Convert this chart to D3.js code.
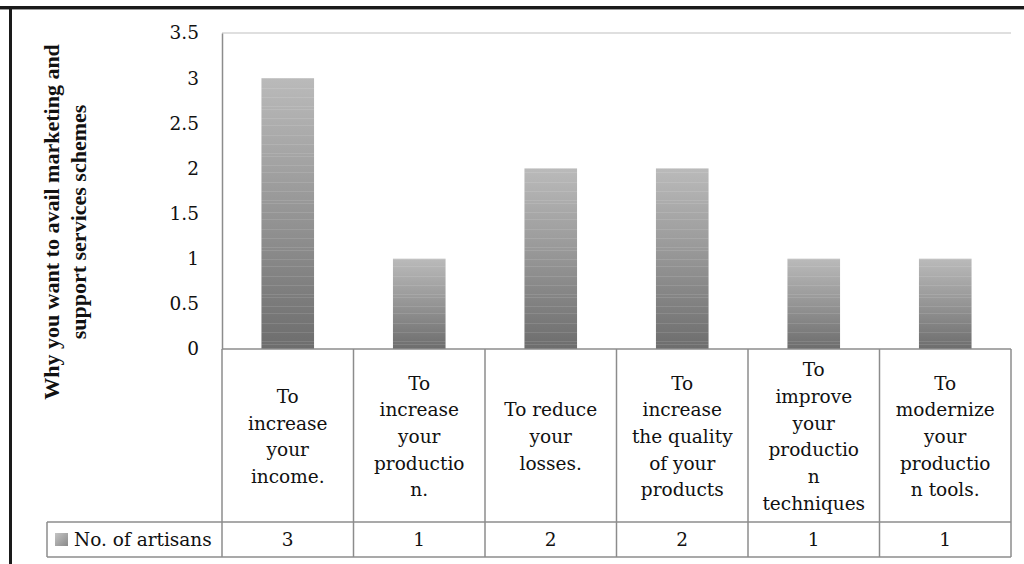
<!DOCTYPE html>
<html>
<head>
<meta charset="utf-8">
<script src="https://cdn.jsdelivr.net/npm/d3@7"></script>
<style>
  html, body { margin: 0; padding: 0; background: #ffffff; }
  svg { display: block; }
</style>
</head>
<body>
<svg id="chart" width="1024" height="564"></svg>
<script>
// Reasons for availing marketing and support services schemes
const categoryLines = [
  ["To", "increase", "your", "income."],
  ["To", "increase", "your", "productio", "n."],
  ["To reduce", "your", "losses."],
  ["To", "increase", "the quality", "of your", "products"],
  ["To", "improve", "your", "productio", "n", "techniques"],
  ["To", "modernize", "your", "productio", "n tools."]
];
const values = [3, 1, 2, 2, 1, 1];
const seriesName = "No. of artisans";
const yTicks = [0, 0.5, 1, 1.5, 2, 2.5, 3, 3.5];
const yTitleLines = ["Why you want to avail marketing and", "support services schemes"];

const svg = d3.select("#chart");
const W = 1024, H = 564;

const plot = { left: 222, right: 1011, top: 33, bottom: 349 };
const tableRow1Bottom = 522, tableBottom = 557, legendLeft = 47;
const gridColor = "#8c8c8c";
const serif = "'DejaVu Serif', serif";
const fontSize = 18.5;

const idx = d3.range(values.length);
const xCell = d3.scaleBand().domain(idx).range([plot.left, plot.right]).padding(0);
const xBar = d3.scaleBand().domain(idx).range([plot.left, plot.right])
  .paddingInner(0.6).paddingOuter(0.3);
const y = d3.scaleLinear().domain([0, 3.5]).range([plot.bottom, plot.top]);

// gradient fill for the bars
const defs = svg.append("defs");
const grad = defs.append("linearGradient").attr("id", "barGrad")
  .attr("x1", 0).attr("y1", 0).attr("x2", 0).attr("y2", 1);
grad.append("stop").attr("offset", "0%").attr("stop-color", "#bababa");
grad.append("stop").attr("offset", "50%").attr("stop-color", "#959595");
grad.append("stop").attr("offset", "100%").attr("stop-color", "#6d6d6d");

// faint horizontal streak texture laid over the gradient
const streaks = defs.append("pattern").attr("id", "streaks")
  .attr("patternUnits", "userSpaceOnUse").attr("width", 8).attr("height", 47);
[3, 12, 15, 24, 31, 41].forEach(o => {
  streaks.append("rect").attr("x", 0).attr("y", o).attr("width", 8).attr("height", 1)
    .attr("fill", "#ffffff").attr("opacity", 0.11);
});

const keyGrad = defs.append("linearGradient").attr("id", "keyGrad")
  .attr("x1", 0).attr("y1", 0).attr("x2", 1).attr("y2", 1);
keyGrad.append("stop").attr("offset", "0%").attr("stop-color", "#c4c4c4");
keyGrad.append("stop").attr("offset", "100%").attr("stop-color", "#8a8a8a");

// outer frame (top and left edges)
svg.append("line").attr("x1", 0).attr("x2", W).attr("y1", 7.5).attr("y2", 7.5)
  .attr("stroke", "#1a1a1a").attr("stroke-width", 3);
svg.append("line").attr("x1", 0).attr("x2", W).attr("y1", 9.5).attr("y2", 9.5)
  .attr("stroke", "#9a9a9a").attr("stroke-width", 1);
svg.append("line").attr("x1", 10.5).attr("x2", 10.5).attr("y1", 6).attr("y2", H)
  .attr("stroke", "#1a1a1a").attr("stroke-width", 3);

// top edge of the plot area
svg.append("line").attr("x1", plot.left).attr("x2", plot.right)
  .attr("y1", y(3.5)).attr("y2", y(3.5))
  .attr("stroke", "#d4d4d4").attr("stroke-width", 1.5);

// bars
const barG = svg.append("g");
["url(#barGrad)", "url(#streaks)"].forEach(fill => {
  barG.append("g").selectAll("rect").data(values).join("rect")
    .attr("x", (d, i) => xBar(i))
    .attr("width", xBar.bandwidth())
    .attr("y", d => y(d))
    .attr("height", d => y(0) - y(d))
    .attr("fill", fill);
});

// y axis
const yAxis = svg.append("g")
  .attr("transform", `translate(${plot.left},0)`)
  .call(d3.axisLeft(y).tickValues(yTicks).tickSize(0).tickPadding(23)
    .tickFormat(d => String(d)));
yAxis.select(".domain").attr("stroke", gridColor).attr("stroke-width", 1.5);
yAxis.selectAll("text").attr("font-family", serif).attr("font-size", fontSize)
  .attr("fill", "#111");

// y axis title
const titleG = svg.append("g")
  .attr("transform", `translate(65,222) rotate(-90)`);
titleG.selectAll("text").data(yTitleLines).join("text")
  .attr("x", 0).attr("y", (d, i) => (i - 0.5) * 27)
  .attr("dy", "0.35em")
  .attr("text-anchor", "middle")
  .attr("font-family", "'Liberation Serif', serif")
  .attr("font-weight", "bold").attr("font-size", 22)
  .attr("fill", "#111")
  .text(d => d);

// data table: grid lines
const tbl = svg.append("g").attr("stroke", gridColor).attr("stroke-width", 1.5)
  .attr("fill", "none");
tbl.append("line").attr("x1", plot.left).attr("x2", plot.right)
  .attr("y1", plot.bottom).attr("y2", plot.bottom);
tbl.append("line").attr("x1", legendLeft).attr("x2", plot.right)
  .attr("y1", tableRow1Bottom).attr("y2", tableRow1Bottom);
tbl.append("line").attr("x1", legendLeft).attr("x2", plot.right)
  .attr("y1", tableBottom).attr("y2", tableBottom);
tbl.append("line").attr("x1", legendLeft).attr("x2", legendLeft)
  .attr("y1", tableRow1Bottom).attr("y2", tableBottom);
tbl.selectAll("line.col").data(idx.concat([values.length])).join("line")
  .attr("class", "col")
  .attr("x1", i => i < values.length ? xCell(i) : plot.right)
  .attr("x2", i => i < values.length ? xCell(i) : plot.right)
  .attr("y1", plot.bottom).attr("y2", tableBottom);

// category labels
const lineH = 26.7;
const cellMid = (plot.bottom + tableRow1Bottom) / 2 + 1;
const catG = svg.append("g");
categoryLines.forEach((lines, i) => {
  const cx = xCell(i) + xCell.bandwidth() / 2;
  catG.append("g").selectAll("text").data(lines).join("text")
    .attr("x", cx)
    .attr("y", (d, k) => cellMid + (k - (lines.length - 1) / 2) * lineH)
    .attr("dy", "0.35em")
    .attr("text-anchor", "middle")
    .attr("font-family", serif).attr("font-size", fontSize)
    .attr("fill", "#111")
    .text(d => d);
});

// legend row with values
const rowMid = (tableRow1Bottom + tableBottom) / 2;
svg.append("rect").attr("x", 55).attr("y", rowMid - 6.5)
  .attr("width", 13).attr("height", 13).attr("fill", "url(#keyGrad)");
svg.append("text").attr("x", 74).attr("y", rowMid).attr("dy", "0.35em")
  .attr("font-family", serif).attr("font-size", fontSize).attr("fill", "#111")
  .text(seriesName);
svg.append("g").selectAll("text").data(values).join("text")
  .attr("x", (d, i) => xCell(i) + xCell.bandwidth() / 2)
  .attr("y", rowMid).attr("dy", "0.35em")
  .attr("text-anchor", "middle")
  .attr("font-family", serif).attr("font-size", fontSize).attr("fill", "#111")
  .text(d => d);
</script>
</body>
</html>
